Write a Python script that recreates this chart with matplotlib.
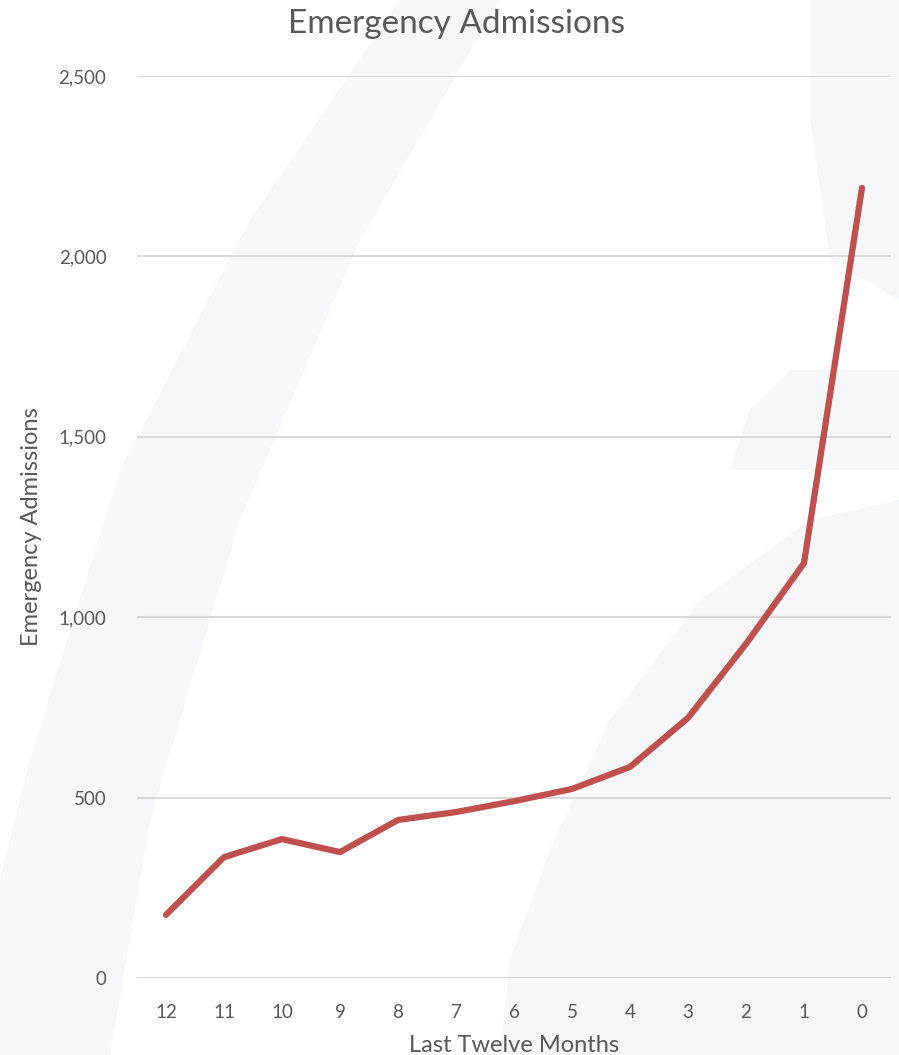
import matplotlib
matplotlib.use('Agg')
import matplotlib.pyplot as plt
from matplotlib.patches import Polygon
from matplotlib.ticker import FuncFormatter

months = ['12', '11', '10', '9', '8', '7', '6', '5', '4', '3', '2', '1', '0']
admissions = [175, 335, 385, 349, 438, 460, 490, 524, 585, 721, 926, 1150, 2190]

TEXT = '#595959'
LINE = '#C0504D'
WATERMARK = '#f6f7f9'

plt.rcParams['font.family'] = ['Lato', 'DejaVu Sans']

fig = plt.figure(figsize=(8.99, 10.55), dpi=100)
fig.patch.set_facecolor('white')

# faint watermark shapes in the background
bg = fig.add_axes([0, 0, 1, 1], zorder=0)
bg.set_xlim(0, 899)
bg.set_ylim(1055, 0)
bg.axis('off')
shapes = [
    [(0, 1055), (110, 1055), (150, 820), (240, 520), (360, 240), (500, 0), (400, 0), (250, 220), (120, 470), (30, 760), (0, 880)],
    [(500, 1055), (899, 1055), (899, 500), (810, 520), (700, 600), (610, 720), (550, 850), (510, 960)],
    [(730, 470), (899, 470), (899, 370), (790, 370), (750, 410)],
    [(810, 0), (899, 0), (899, 300), (830, 260), (810, 120)],
]
for pts in shapes:
    bg.add_patch(Polygon(pts, closed=True, facecolor=WATERMARK, edgecolor='none'))

ax = fig.add_axes([137 / 899, (1055 - 978) / 1055, (891 - 137) / 899, (978 - 76) / 1055], zorder=1)
ax.patch.set_alpha(0)

x = list(range(len(months)))
ax.plot(x, admissions, color=LINE, linewidth=4.5, solid_capstyle='round', solid_joinstyle='round', zorder=3)

ax.set_xlim(-0.5, len(months) - 0.5)
ax.set_ylim(0, 2500)
ax.set_yticks([0, 500, 1000, 1500, 2000, 2500])
ax.yaxis.set_major_formatter(FuncFormatter(lambda v, p: f'{int(v):,}'))
ax.set_xticks(x)
ax.set_xticklabels(months)

ax.grid(axis='y', color='#d9d9d9', linewidth=1.5, zorder=1)
ax.set_axisbelow(True)
for s in ax.spines.values():
    s.set_visible(False)
ax.tick_params(axis='both', length=0, colors=TEXT, labelsize=13.5)
ax.tick_params(axis='y', pad=22)
ax.tick_params(axis='x', pad=19)

ax.set_xlabel('Last Twelve Months', fontsize=17, color=TEXT, labelpad=10)
ax.set_ylabel('Emergency Admissions', fontsize=17, color=TEXT, labelpad=12)
fig.text(456 / 899, 1 - 24 / 1055, 'Emergency Admissions', ha='center', va='center', fontsize=24, color=TEXT)

fig.savefig('out.png', dpi=100)
